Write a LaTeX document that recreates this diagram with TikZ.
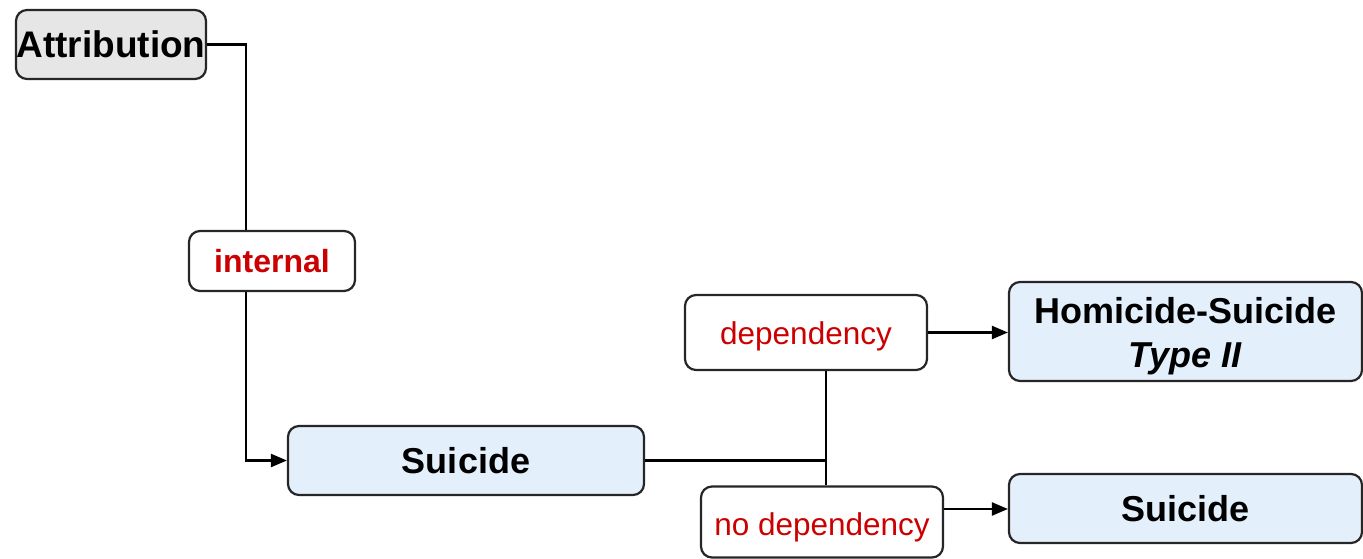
\documentclass[tikz,border=0pt]{standalone}
\usepackage{fontspec}
\setmainfont{Liberation Sans}
\usetikzlibrary{arrows.meta}
\definecolor{boxgray}{HTML}{E6E6E6}
\definecolor{boxblue}{HTML}{E3F0FC}
\definecolor{lblred}{HTML}{CC0000}
\tikzset{
  box/.style={draw=black!85, line width=2.2pt, rounded corners=11pt, inner sep=0pt, align=center},
  mainbox/.style={box, fill=boxblue, font=\fontsize{36}{44}\selectfont\bfseries},
  lbl/.style={box, fill=white, text=lblred, font=\fontsize{31.5}{36}\selectfont},
  conn/.style={line width=2.3pt, draw=black},
  arr/.style={conn, -{Triangle[length=16pt,width=13pt]}}
}
\begin{document}
\begin{tikzpicture}[x=1pt,y=-1pt]
\useasboundingbox (0,0) rectangle (1363,559);
\node[box, fill=boxgray, minimum width=190pt, minimum height=69pt, font=\fontsize{37}{44}\selectfont\bfseries] (attr) at (111,44.5) {Attribution};
\node[lbl, font=\fontsize{32}{36}\selectfont\bfseries, minimum width=166pt, minimum height=60pt] (int) at (272,261) {internal};
\node[mainbox, minimum width=356pt, minimum height=69pt] (suic) at (466,460.5) {Suicide};
\node[lbl, minimum width=242pt, minimum height=75pt, text height=31pt, text depth=6.6pt] (dep) at (806,332.5) {dependency};
\node[lbl, minimum width=242pt, minimum height=71pt, text height=26pt, text depth=0pt] (nodep) at (822,522) {no dependency};
\node[mainbox, minimum width=353pt, minimum height=99pt] (hs) at (1185.5,331.5) {\rule{0pt}{36pt}Homicide-Suicide\\\textit{Type II}};
\node[mainbox, minimum width=353pt, minimum height=69pt] (suic2) at (1185.5,508.5) {Suicide};
\coordinate (c1) at (246,0);
\coordinate (c2) at (826,0);
\coordinate (c3) at (0,509);
\draw[conn] (attr.east) -| (c1 |- int.north);
\draw[arr] (c1 |- int.south) |- (suic.west);
\draw[conn] (c2 |- dep.south) -- (c2 |- nodep.north);
\draw[conn] (suic.east) -- (suic.east -| c2);
\draw[arr] (dep.east) -- (hs.west |- dep.east);
\draw[arr] (nodep.east |- c3) -- (suic2.west |- c3);
\end{tikzpicture}
\end{document}
